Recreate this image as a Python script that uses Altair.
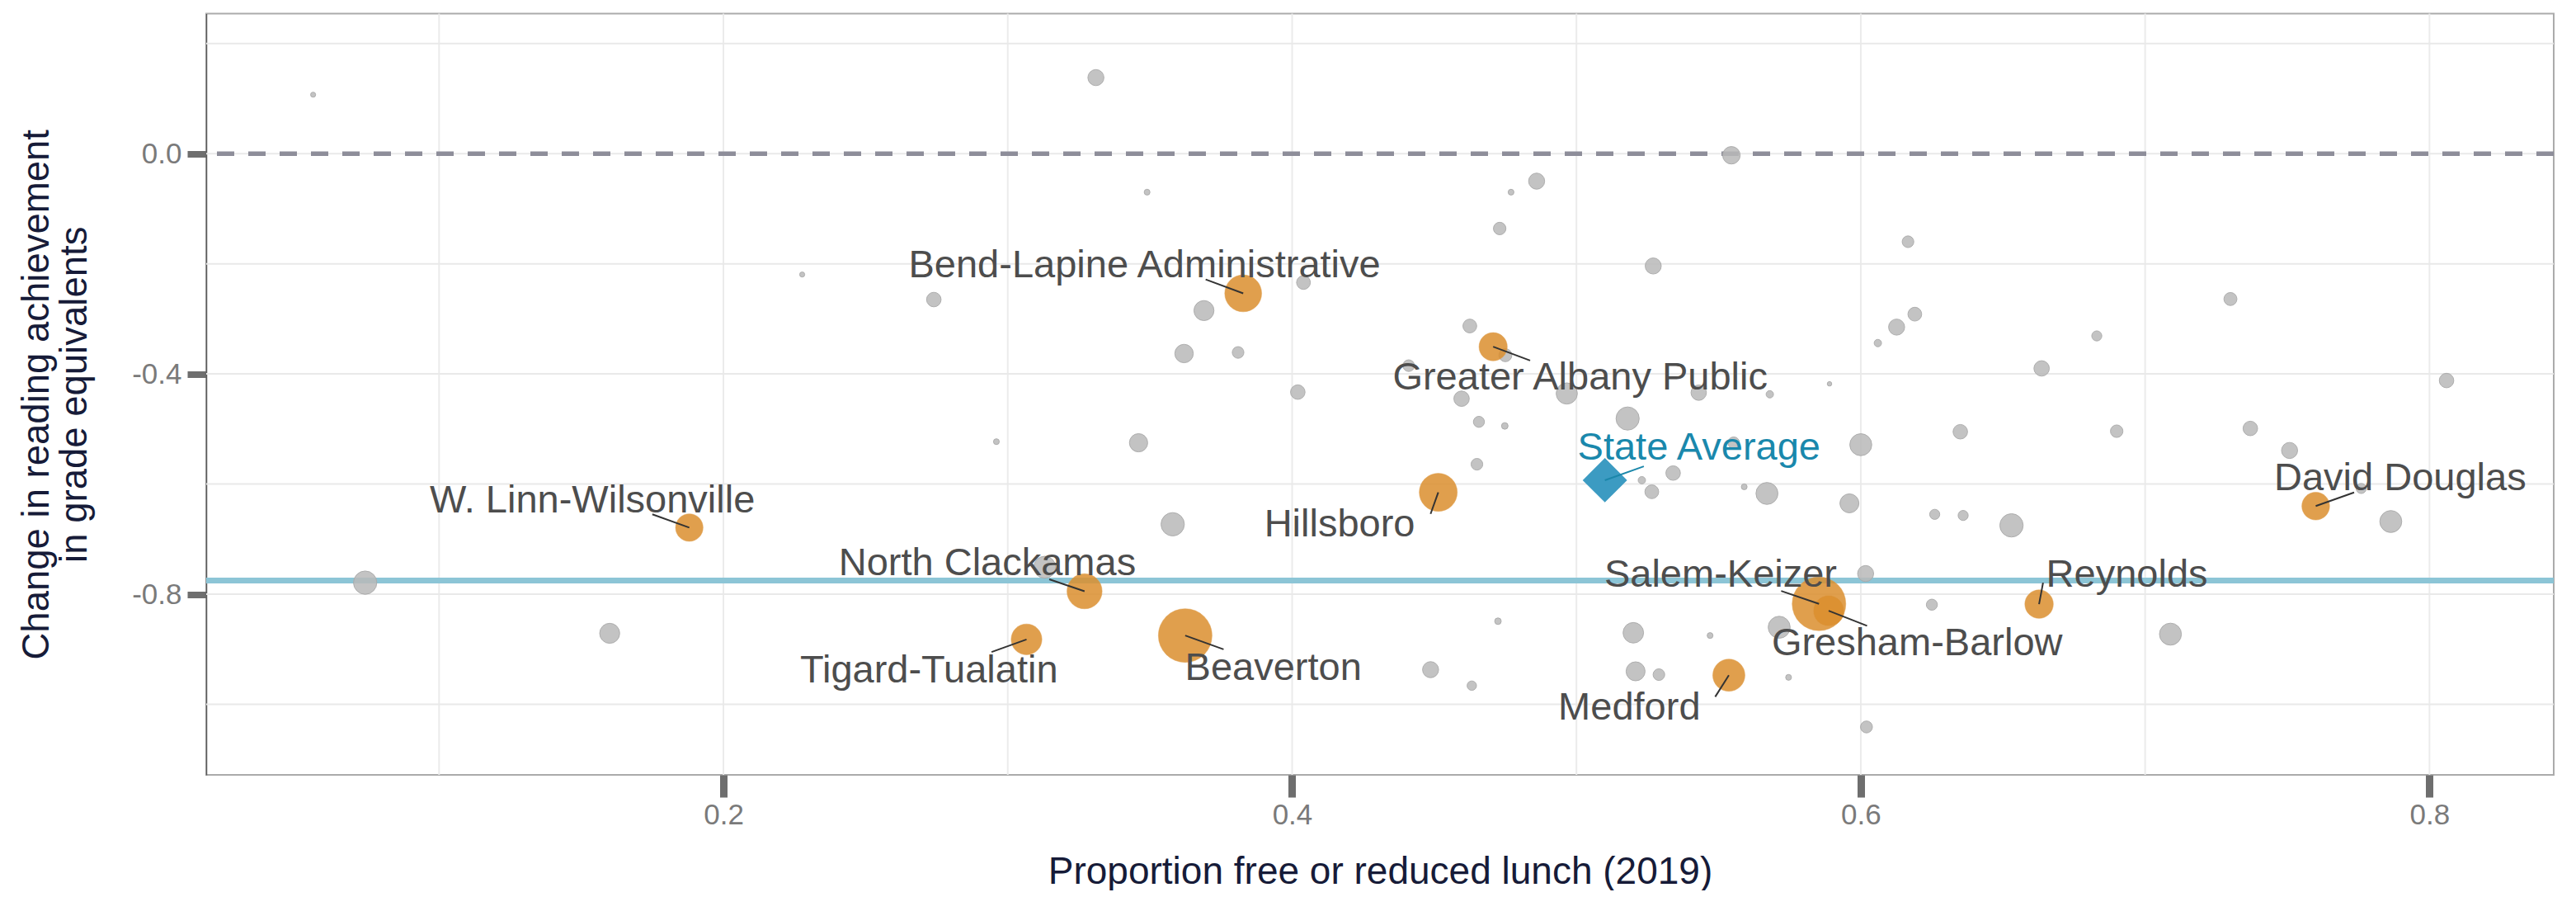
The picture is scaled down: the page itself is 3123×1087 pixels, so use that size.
import altair as alt
import pandas as pd

# ---------------- data ----------------
# grey (unlabelled) districts: proportion FRL, change in reading GE, students
gray_frl = [0.0557, 0.331, 0.5545, 0.2277, 0.274, 0.349, 0.369, 0.404, 0.362, 0.381,
            0.402, 0.296, 0.346, 0.486, 0.477, 0.473, 0.527, 0.4625, 0.475, 0.441,
            0.4596, 0.4966, 0.543, 0.568, 0.589, 0.518, 0.4657, 0.4748, 0.465, 0.5553,
            0.534, 0.523, 0.5265, 0.559, 0.567, 0.600, 0.635, 0.596, 0.626, 0.636,
            0.653, 0.6017, 0.5713, 0.625, 0.7089, 0.4724, 0.4487, 0.4632, 0.520, 0.547,
            0.5208, 0.529, 0.5746, 0.602, 0.6166, 0.619, 0.6126, 0.606, 0.683, 0.6636,
            0.730, 0.806, 0.690, 0.737, 0.7508, 0.776, 0.7864, 0.358, 0.313, 0.074,
            0.160]
gray_change = [0.107, 0.138, -0.003, -0.2195, -0.265, -0.070, -0.285, -0.234, -0.363, -0.361,
               -0.433, -0.523, -0.525, -0.050, -0.070, -0.136, -0.204, -0.313, -0.366, -0.385,
               -0.445, -0.4355, -0.434, -0.437, -0.418, -0.481, -0.487, -0.4944, -0.564, -0.525,
               -0.580, -0.593, -0.614, -0.605, -0.617, -0.5285, -0.505, -0.635, -0.655, -0.657,
               -0.675, -0.7625, -0.860, -0.819, -0.8725, -0.849, -0.937, -0.966, -0.870, -0.875,
               -0.940, -0.946, -0.951, -1.041, -0.160, -0.2915, -0.315, -0.344, -0.331, -0.390,
               -0.264, -0.412, -0.504, -0.499, -0.539, -0.608, -0.668, -0.673, -0.751, -0.779,
               -0.871]
gray_students = [380, 3800, 4500, 380, 3100, 500, 5900, 2800, 5000, 2000,
                 3100, 500, 4900, 3800, 500, 2300, 3800, 2800, 2500, 2000,
                 3500, 6600, 3500, 800, 300, 7900, 1800, 640, 2000, 2000,
                 3100, 800, 2800, 500, 7100, 7100, 3100, 5300, 1500, 1500,
                 8000, 3800, 7100, 1800, 7100, 640, 3800, 1300, 6200, 500,
                 5300, 2000, 500, 2100, 2000, 2800, 3800, 800, 1500, 3500,
                 2500, 3100, 2300, 3100, 3800, 1500, 7100, 8000, 7100, 8000,
                 5900]

# highlighted districts
dist_names = ["Bend-Lapine Administrative", "Greater Albany Public", "W. Linn-Wilsonville",
              "North Clackamas", "Tigard-Tualatin", "Beaverton", "Hillsboro",
              "Salem-Keizer", "Gresham-Barlow", "Reynolds", "David Douglas", "Medford"]
dist_frl = [0.3828, 0.4707, 0.188, 0.327, 0.3066, 0.3624, 0.4514,
            0.5853, 0.5887, 0.6627, 0.760, 0.5536]
dist_change = [-0.2537, -0.3506, -0.679, -0.7946, -0.882, -0.875, -0.615,
               -0.8175, -0.830, -0.818, -0.640, -0.947]
dist_students = [20000, 11700, 11100, 18100, 13900, 42300, 21200,
                 42300, 13900, 11900, 11300, 15200]
# repelled label anchors (data units) and leader-line ends
label_frl = [0.3481, 0.5013, 0.1539, 0.2928, 0.2723, 0.3934, 0.4167,
             0.5507, 0.6198, 0.6936, 0.7897, 0.5186]
label_change = [-0.2247, -0.4285, -0.651, -0.766, -0.9596, -0.956, -0.695,
                -0.787, -0.911, -0.787, -0.6106, -1.027]
leader_frl = [0.3696, 0.4837, 0.175, 0.3146, 0.2943, 0.3759, 0.4487,
              0.5720, 0.6022, 0.6641, 0.7735, 0.5488]
leader_change = [-0.2285, -0.3756, -0.655, -0.773, -0.905, -0.900, -0.6542,
                 -0.794, -0.8574, -0.779, -0.6153, -0.9862]

# state average
state_name = ["State Average"]
state_frl = [0.510]
state_change = [-0.593]
state_label_frl = [0.5431]
state_label_change = [-0.555]
state_leader_frl = [0.5237]
state_leader_change = [-0.5678]

zero_line = [0.0]
ref_line = [-0.775]

x_grid = [0.1, 0.2, 0.3, 0.4, 0.5, 0.6, 0.7, 0.8]
y_grid = [0.2, 0.0, -0.2, -0.4, -0.6, -0.8, -1.0]
x_ticks = [0.2, 0.4, 0.6, 0.8]
y_ticks = [0.0, -0.4, -0.8]

# ---------------- chart ----------------
FONT = "Liberation Sans"
W, H = 2846, 922.5

gray_df = pd.DataFrame({"frl": gray_frl, "chg": gray_change, "n": gray_students})
dist_df = pd.DataFrame({"name": dist_names, "frl": dist_frl, "chg": dist_change,
                        "n": dist_students, "lx": label_frl, "ly": label_change,
                        "sx": leader_frl, "sy": leader_change})
state_df = pd.DataFrame({"name": state_name, "frl": state_frl, "chg": state_change,
                         "lx": state_label_frl, "ly": state_label_change,
                         "sx": state_leader_frl, "sy": state_leader_change})

xs = alt.Scale(domain=[0.0181, 0.8437], nice=False, zero=False)
ys = alt.Scale(domain=[-1.128, 0.2542], nice=False, zero=False)
ss = alt.Scale(type="linear", domain=[0, 45000], range=[0, 4500], zero=True)

neg_fmt = "datum.value < 0 ? '-' + format(-datum.value, '.1f') : format(datum.value, '.1f')"

x_axis = alt.Axis(values=x_ticks, labelExpr=neg_fmt, grid=False, domain=False,
                  tickSize=27, tickWidth=9, tickColor="#6E6E6E",
                  labelPadding=4, labelFontSize=35, labelColor="#7A7A7A", labelFont=FONT,
                  title="Proportion free or reduced lunch (2019)",
                  titleFont=FONT, titleFontSize=46, titleFontWeight="normal",
                  titleColor="#161B38", titleBaseline="alphabetic",
                  titleX=W / 2, titleY=131, titleAlign="center")
y_axis = alt.Axis(values=y_ticks, labelExpr=neg_fmt, grid=False, domain=True,
                  domainColor="#5A5A5A", domainWidth=1.5,
                  tickSize=23, tickWidth=8, tickColor="#6E6E6E",
                  labelPadding=7, labelFontSize=35, labelColor="#7A7A7A", labelFont=FONT,
                  title=["Change in reading  achievement", "in grade equivalents"],
                  titleFont=FONT, titleFontSize=45.5, titleFontWeight="normal",
                  titleColor="#161B38", titleBaseline="alphabetic", titleLineHeight=46,
                  titleAngle=270, titleAlign="center", titleX=-192, titleY=H / 2)


def X(field):
    return alt.X(field, type="quantitative", scale=xs, axis=x_axis)


def Y(field):
    return alt.Y(field, type="quantitative", scale=ys, axis=y_axis)


xgrid = alt.Chart(pd.DataFrame({"v": x_grid})).mark_rule(
    color="#EBEBEB", strokeWidth=2).encode(x=X("v"))
ygrid = alt.Chart(pd.DataFrame({"v": y_grid})).mark_rule(
    color="#E9E9E9", strokeWidth=2).encode(y=Y("v"))

zero = alt.Chart(pd.DataFrame({"v": zero_line})).mark_rule(
    color="#8E8E9A", strokeWidth=5.5, strokeDash=[21, 17]).encode(y=Y("v"))
ref = alt.Chart(pd.DataFrame({"v": ref_line})).mark_rule(
    color="#8CC5D6", strokeWidth=7).encode(y=Y("v"))

gray_pts = alt.Chart(gray_df).mark_circle(
    fill="#B8B8B8", fillOpacity=0.85, stroke="#A8A8A8", strokeWidth=1, strokeOpacity=0.9).encode(
    x=X("frl"), y=Y("chg"),
    size=alt.Size("n:Q", scale=ss, legend=None))

orange_pts = alt.Chart(dist_df).mark_circle(
    fill="#DB8E2E", fillOpacity=0.85, stroke="#E0A050", strokeWidth=1, strokeOpacity=0.5).encode(
    x=X("frl"), y=Y("chg"),
    size=alt.Size("n:Q", scale=ss, legend=None))

state_pt = alt.Chart(state_df).mark_point(
    shape="diamond", filled=True, fill="#3C9BC2", opacity=1, size=2900, strokeWidth=0).encode(
    x=X("frl"), y=Y("chg"))

leaders = alt.Chart(dist_df).mark_rule(color="#333333", strokeWidth=2).encode(
    x=X("sx"), y=Y("sy"), x2="frl:Q", y2="chg:Q")
state_leader = alt.Chart(state_df).mark_rule(color="#1B87AA", strokeWidth=2).encode(
    x=X("sx"), y=Y("sy"), x2="frl:Q", y2="chg:Q")

labels = alt.Chart(dist_df).mark_text(
    font=FONT, fontSize=47, color="#4D4D4D", align="center", baseline="alphabetic").encode(
    x=X("lx"), y=Y("ly"), text="name:N")
state_label = alt.Chart(state_df).mark_text(
    font=FONT, fontSize=47, color="#1A88AC", align="center", baseline="alphabetic").encode(
    x=X("lx"), y=Y("ly"), text="name:N")

chart = alt.layer(
    xgrid, ygrid, zero, ref, gray_pts, orange_pts, state_pt,
    leaders, state_leader, labels, state_label
).properties(
    width=W, height=H,
    autosize=alt.AutoSizeParams(type="none"),
    padding={"left": 242, "top": 8.5, "right": 12, "bottom": 140},
    background="white"
).configure_view(
    stroke="#ABABAB", strokeWidth=2
)

chart.save("out.html", embed_options={"renderer": "svg", "actions": False})
